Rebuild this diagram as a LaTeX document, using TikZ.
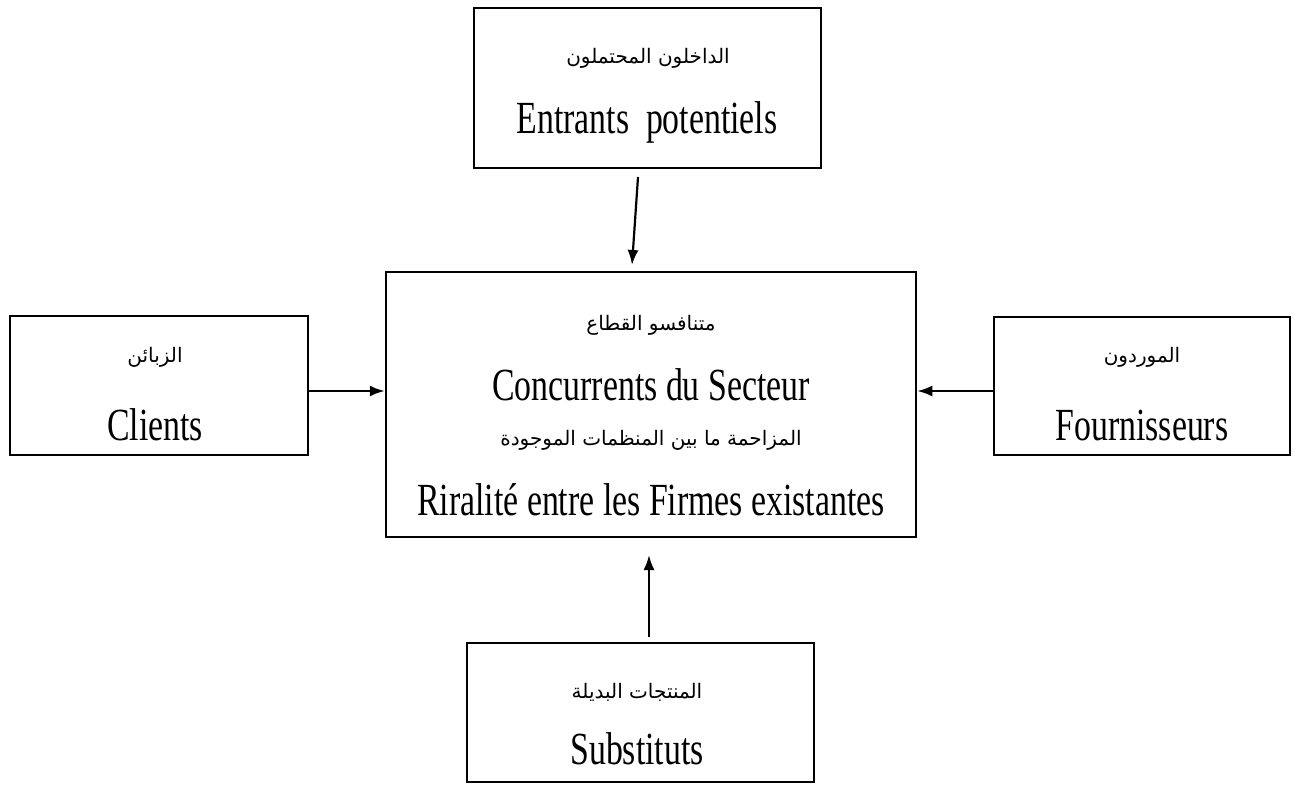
\documentclass[tikz,border=0pt]{standalone}
\usepackage{fontspec}
\setmainfont{Liberation Serif}[FakeStretch=0.735]
\newfontfamily\arabicfont[Script=Arabic]{DejaVu Sans}
\TeXXeTstate=1
\usetikzlibrary{arrows.meta}

\newcommand{\lat}[1]{\fontsize{46}{52}\selectfont #1}
\newcommand{\arab}[1]{{\arabicfont\fontsize{20}{24}\selectfont\beginR #1\endR}}

\begin{document}
\begin{tikzpicture}[x=1pt,y=-1pt,
  force/.style={draw, line width=2.5pt, inner sep=0pt, fill=white},
  label/.style={inner sep=0pt, anchor=center},
  arr/.style={line width=2.2pt, -{Latex[length=15pt,width=11pt]}}]
\useasboundingbox (0,0) rectangle (1293,787);

% boxes
\node[force, minimum width=347pt, minimum height=160pt] (entrants) at (647.5,88) {};
\node[force, minimum width=530pt, minimum height=265pt] (secteur) at (651,404.5) {};
\node[force, minimum width=298pt, minimum height=139pt] (clients) at (159,385.5) {};
\node[force, minimum width=296pt, minimum height=138pt] (fourn) at (1142,386) {};
\node[force, minimum width=347pt, minimum height=139pt] (subst) at (640.5,712.5) {};

% texts
\node[label] (t1a) at (648,58) {\arab{الداخلون المحتملون}};
\node[label] (t1b) at (647,122) {\lat{Entrants\ \ potentiels}};

\node[label] (t2a) at (651,325) {\arab{متنافسو القطاع}};
\node[label] (t2b) at (651,385) {\lat{Concurrents du Secteur}};
\node[label] (t2c) at (651,440) {\arab{المزاحمة ما بين المنظمات الموجودة}};
\node[label] (t2d) at (651,500) {\lat{Riralité entre les Firmes existantes}};

\node[label] (t3a) at (155,357) {\arab{الزبائن}};
\node[label] (t3b) at (155,425) {\lat{Clients}};

\node[label] (t4a) at (1142,357) {\arab{الموردون}};
\node[label] (t4b) at (1142,425) {\lat{Fournisseurs}};

\node[label] (t5a) at (637,692) {\arab{المنتجات البديلة}};
\node[label] (t5b) at (637,749) {\lat{Substituts}};

% connectors
\coordinate (e1) at (638,177);
\coordinate (e2) at (632,265);
\draw[arr] (e1) -- (e2);
\coordinate (lv) at (0,391);
\draw[arr] (clients.east |- lv) -- (secteur.west |- lv);
\draw[arr] (fourn.west |- lv) -- (secteur.east |- lv);
\coordinate (s1) at (649,637);
\coordinate (s2) at (649,555);
\draw[arr] (s1) -- (s2);
\end{tikzpicture}
\end{document}
